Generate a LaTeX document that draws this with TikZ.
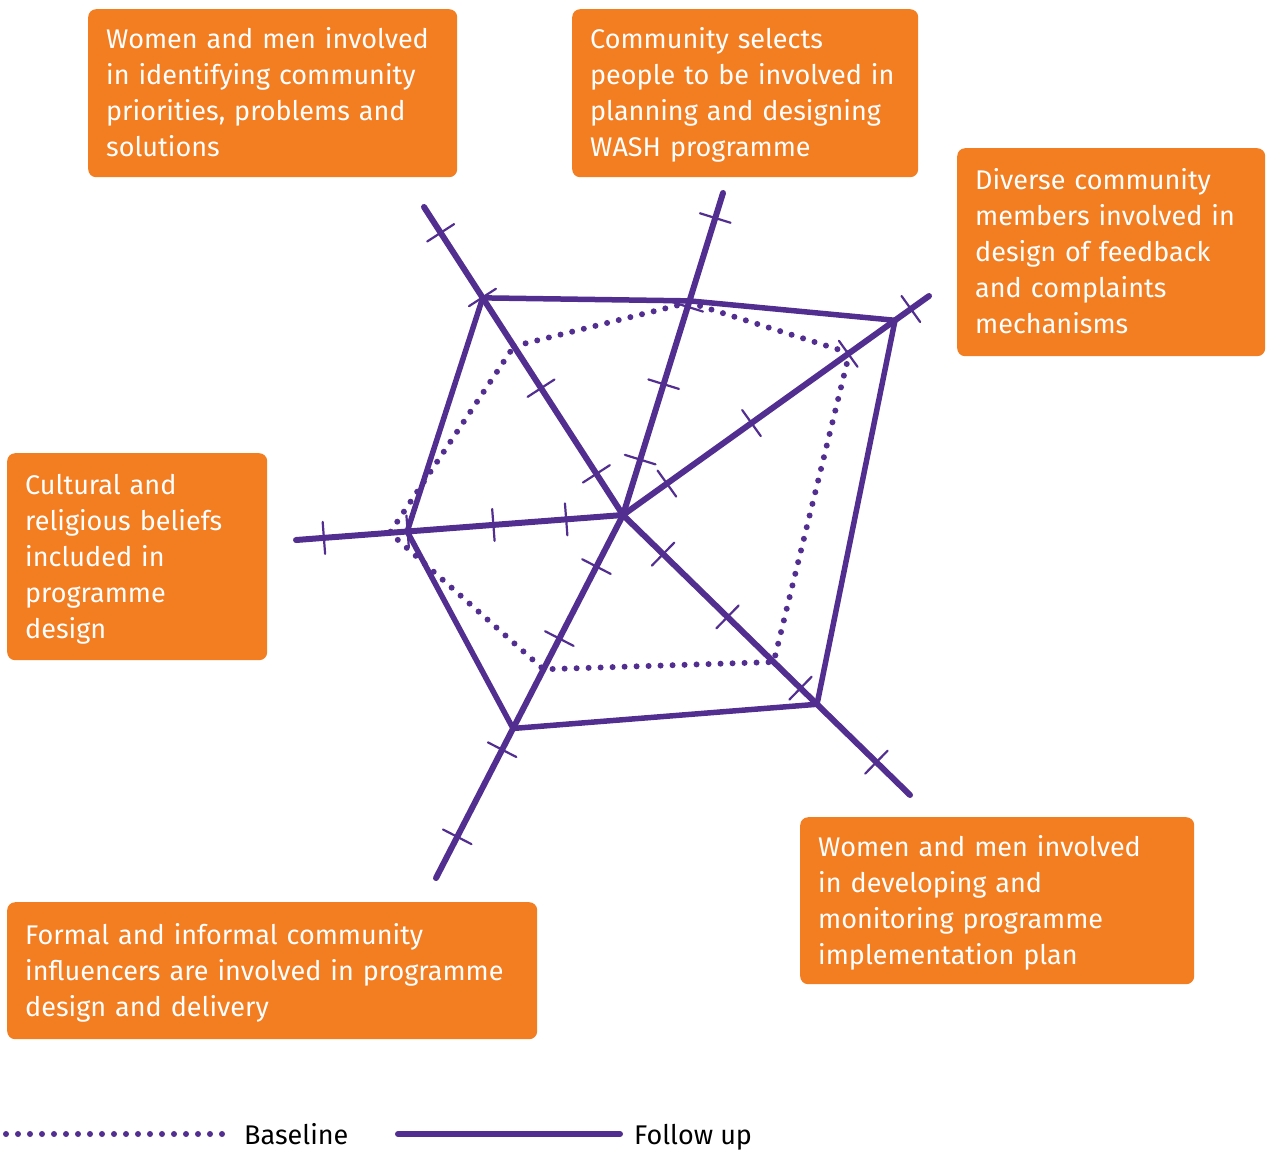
\documentclass[tikz,border=0pt]{standalone}
\usepackage{fontspec}
\setmainfont{Fira Sans}
\usetikzlibrary{calc,decorations.markings}
\definecolor{wapurple}{RGB}{82,46,145}
\definecolor{waorange}{RGB}{243,125,33}

\begin{document}
\begin{tikzpicture}[x=1pt,y=-1pt,
		box/.style={anchor=north west,fill=waorange,rounded corners=8pt,text=white,align=left,inner xsep=18pt,font=\fontsize{27}{36}\selectfont,
			execute at begin node={\rule{0pt}{27pt}},execute at end node={\rule[-7.5pt]{0pt}{7.5pt}}},
		spoke/.style={draw=wapurple,line width=6pt,line cap=round},
		spoketick/.style={draw=wapurple,line width=2.2pt},
		tickset/.style n args={4}{postaction={decorate,decoration={markings,
			mark=at position #1 with {\draw[spoketick] (0,-16) -- (0,16);},
			mark=at position #2 with {\draw[spoketick] (0,-16) -- (0,16);},
			mark=at position #3 with {\draw[spoketick] (0,-16) -- (0,16);},
			mark=at position #4 with {\draw[spoketick] (0,-16) -- (0,16);}}}},
		followpoly/.style={draw=wapurple,line width=5.5pt,line join=miter},
		basepoly/.style={draw=wapurple,line width=6pt,line cap=round,dash pattern=on 0pt off 12pt},
		legend/.style={anchor=west,inner xsep=14pt,inner ysep=0pt,text height=20pt,text depth=0pt,font=\fontsize{27}{30}\selectfont}]
	\useasboundingbox (0,0) rectangle (1266,1149);

	\coordinate (c) at (623,515);
	\coordinate (ul) at (424,207);
	\coordinate (ur) at (723,193);
	\coordinate (ru) at (929,296);
	\coordinate (lr) at (910,795);
	\coordinate (ll) at (436,878);
	\coordinate (lf) at (296,540);

	\node[box,text width=333pt,minimum height=168pt] (prio) at (88,9) {Women and men involved\\in identifying community\\priorities, problems and\\solutions};
	\node[box,text width=310pt,minimum height=168pt] (select) at (572,9) {Community selects\\people to be involved in\\planning and designing\\WASH programme};
	\node[box,text width=272pt,minimum height=208pt] (feedback) at (957,148) {Diverse community\\members involved in\\design of feedback\\and complaints\\mechanisms};
	\node[box,text width=224pt,minimum height=207pt] (beliefs) at (7,453) {Cultural and\\religious beliefs\\included in\\programme\\design};
	\node[box,text width=358pt,minimum height=167pt] (plan) at (800,817) {Women and men involved\\in developing and\\monitoring programme\\implementation plan};
	\node[box,text width=494pt,minimum height=137pt] (influence) at (7,902) {Formal and informal community\\influencers are involved in programme\\design and delivery};

	\draw[spoke,tickset={49pt}{151pt}{259pt}{336pt}] (c) -- (ul);
	\draw[spoke,tickset={58pt}{137pt}{218pt}{311pt}] (c) -- (ur);
	\draw[spoke,tickset={54pt}{158pt}{277pt}{354pt}] (c) -- (ru);
	\draw[spoke,tickset={56pt}{146pt}{248pt}{354pt}] (c) -- (lr);
	\draw[spoke,tickset={58pt}{139pt}{264pt}{362pt}] (c) -- (ll);
	\draw[spoke,tickset={57pt}{130pt}{216pt}{300pt}] (c) -- (lf);

	\draw[followpoly] ($(c)!0.705!(ul)$) -- ($(c)!0.665!(ur)$) -- ($(c)!0.889!(ru)$) -- ($(c)!0.676!(lr)$) -- ($(c)!0.588!(ll)$) -- ($(c)!0.66!(lf)$) -- cycle;
	\draw[basepoly] ($(c)!0.548!(ul)$) -- ($(c)!0.66!(ur)$) -- ($(c)!0.74!(ru)$) -- ($(c)!0.525!(lr)$) -- ($(c)!0.425!(ll)$) -- ($(c)!0.713!(lf)$) -- cycle;

	\coordinate (bs) at (6,1134);
	\node[legend] (bl) at (230,1134) {Baseline};
	\draw[basepoly] (bs) -- (bl);
	\coordinate (fs) at (398,1134);
	\node[legend] (fl) at (620,1134) {Follow up};
	\draw[spoke] (fs) -- (fl);
\end{tikzpicture}
\end{document}
